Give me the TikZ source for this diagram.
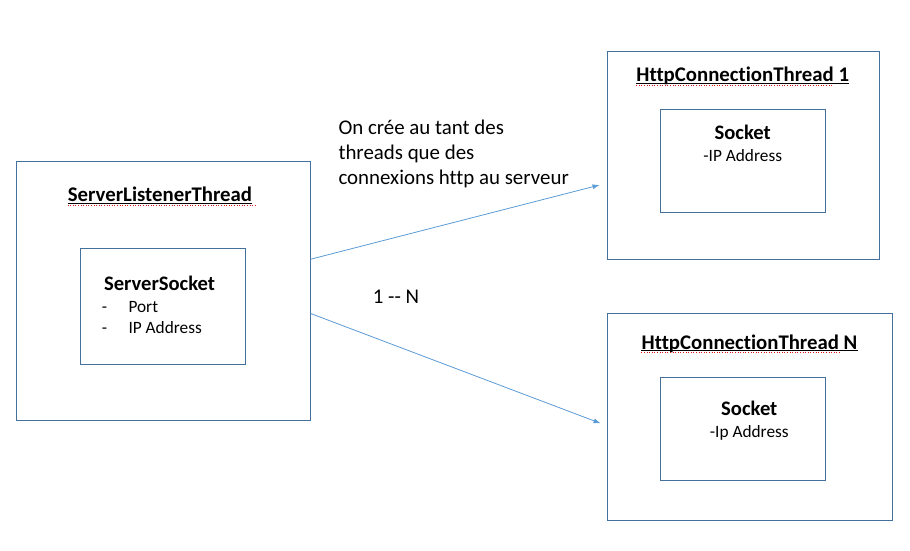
\documentclass[tikz,border=0pt]{standalone}
\usepackage{fontspec}
\setmainfont{Carlito}[Ligatures={TeX,NoCommon}]
\usetikzlibrary{arrows.meta}
\usetikzlibrary{calc}
\tikzset{>=latex}
\definecolor{boxblue}{RGB}{65,113,156}
\definecolor{arrowblue}{RGB}{91,155,213}
\definecolor{spellred}{RGB}{225,20,20}
\tikzstyle{threadbox}=[draw=boxblue,line width=0.9pt,inner sep=0pt]
\tikzstyle{titletext}=[font=\fontsize{20.8}{24}\selectfont\bfseries,inner sep=0pt,anchor=base]
\tikzstyle{subtitletext}=[font=\fontsize{20.6}{24}\selectfont\bfseries,inner sep=0pt,anchor=base]
\tikzstyle{bodytext}=[font=\fontsize{17.3}{20}\selectfont,inner sep=0pt,anchor=base]
\tikzstyle{labeltext}=[font=\fontsize{20.9}{24}\selectfont,inner sep=0pt,anchor=base west]
\tikzstyle{arrowline}=[draw=arrowblue,line width=0.8pt,-{Latex[length=7pt,width=5pt]}]
\tikzstyle{underline}=[line width=0.9pt]
\tikzstyle{spellline}=[draw=spellred,dotted,line width=0.6pt]

\begin{document}
\begin{tikzpicture}[x=1pt,y=-1pt]
    \useasboundingbox (0,0) rectangle (910,550);

    % Thread boxes and socket boxes
    \node[threadbox,minimum width=294pt,minimum height=259pt] (slt) at (163.2,290.7) {};
    \node[threadbox,minimum width=165.7pt,minimum height=116pt] (ss) at (162.9,306.3) {};
    \node[threadbox,minimum width=272pt,minimum height=207.6pt] (hct1) at (743.3,155.5) {};
    \node[threadbox,minimum width=165.4pt,minimum height=103pt] (sock1) at (743,160.8) {};
    \node[threadbox,minimum width=285.4pt,minimum height=206.7pt] (hctn) at (750,416.7) {};
    \node[threadbox,minimum width=165.4pt,minimum height=102.7pt] (sockn) at (743,428.7) {};

    % Titles, underlines and spell marks
    \node[titletext] (sltname) at (160,201.7) {ServerListenerThread};
    \node[titletext] (hct1name) at (742.7,81.7) {HttpConnectionThread 1};
    \node[titletext] (hctnname) at (749.5,349) {HttpConnectionThread N};
    \draw[underline] ([yshift=-1.8pt]sltname.base west) -- ([yshift=-1.8pt]sltname.base east);
    \draw[underline] ([yshift=-1.8pt]hct1name.base west) -- ([yshift=-1.8pt]hct1name.base east);
    \draw[underline] ([yshift=-1.8pt]hctnname.base west) -- ([yshift=-1.8pt]hctnname.base east);
    \draw[spellline] ([yshift=-3.4pt]sltname.base west) -- ([yshift=-3.4pt,xshift=3pt]sltname.base east);
    \draw[spellline] ([yshift=-3.4pt]hct1name.base west) -- ([yshift=-3.4pt,xshift=-16pt]hct1name.base east);
    \draw[spellline] ([yshift=-3.4pt]hctnname.base west) -- ([yshift=-3.4pt,xshift=-18pt]hctnname.base east);

    % Server socket
    \node[subtitletext] (ssname) at (159.5,290.7) {ServerSocket};
    \node[bodytext,anchor=base west] (portdash) at (101.7,312.7) {-};
    \node[bodytext,anchor=base west] (port) at (128.3,312.7) {Port};
    \node[bodytext,anchor=base west] (ipdash) at (101.7,333.3) {-};
    \node[bodytext,anchor=base west] (ip) at (128.3,333.3) {IP Address};

    % Sockets of the connection threads
    \node[subtitletext] (sock1name) at (742.7,139.3) {Socket};
    \node[bodytext] (sock1ip) at (742.7,161.7) {-IP Address};
    \node[subtitletext] (socknname) at (749.3,415) {Socket};
    \node[bodytext] (socknip) at (749.3,437.7) {-Ip Address};

    % Note and multiplicity
    \node[labeltext] (note1) at (338.3,134.3) {On crée au tant des};
    \node[labeltext] (note2) at (338.3,159) {threads que des};
    \node[labeltext] (note3) at (338.3,184) {connexions http au serveur};
    \node[labeltext] (mult) at (372.7,303.3) {1 -{}- N};

    % Arrows
    \draw[arrowline] ([yshift=31.5pt]slt.east) -- ([xshift=-7.3pt,yshift=-29.5pt]hct1.west);
    \draw[arrowline] ([yshift=-22.8pt]slt.east) -- ([xshift=-6.3pt,yshift=-6.6pt]hctn.west);
\end{tikzpicture}
\end{document}
